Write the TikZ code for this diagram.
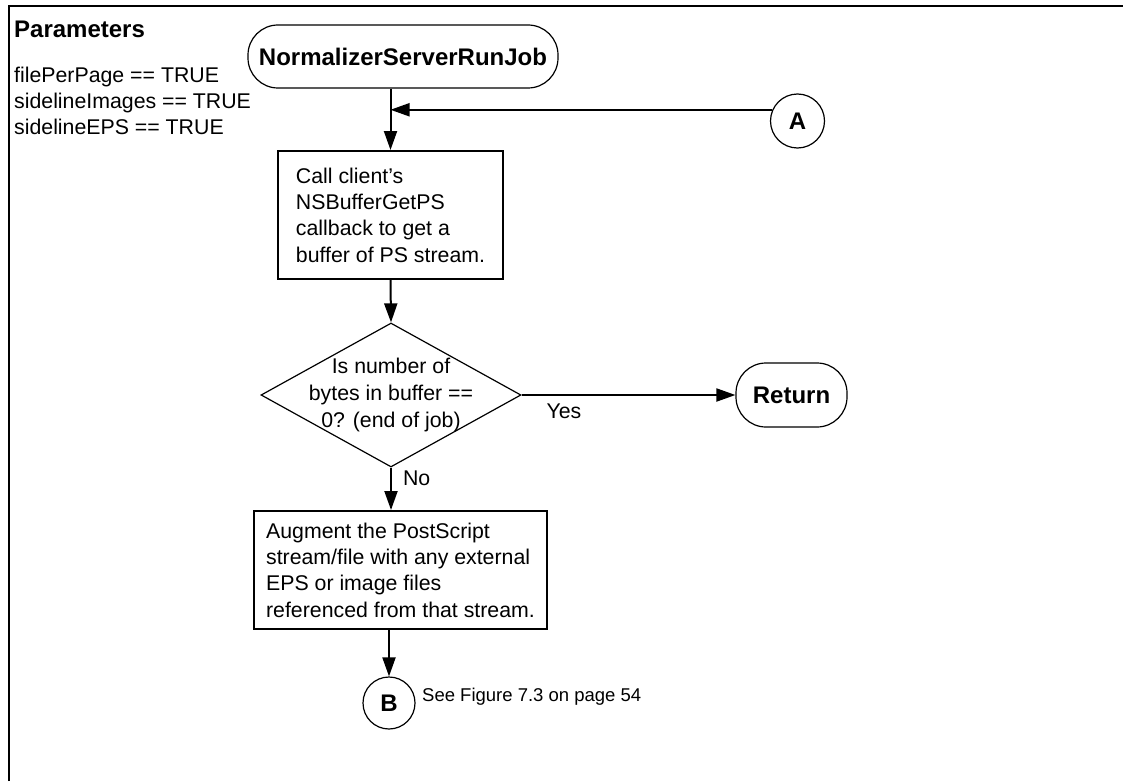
\documentclass[tikz,border=0pt]{standalone}
\usepackage{fontspec}
\setmainfont{Liberation Sans}
\usetikzlibrary{arrows.meta,shapes.geometric}

\begin{document}
\begin{tikzpicture}[x=1pt,y=-1pt,
  plain/.style={inner sep=0pt, font=\fontsize{21.3}{26}\selectfont},
  heading/.style={inner sep=0pt, font=\bfseries\fontsize{24}{28}\selectfont},
  terminal/.style={draw, line width=1.2pt, rectangle, rounded corners=30pt,
    inner sep=0pt, font=\bfseries\fontsize{24}{28}\selectfont},
  connector/.style={draw, line width=1.2pt, circle, inner sep=0pt,
    font=\bfseries\fontsize{24}{28}\selectfont},
  procbox/.style={draw, line width=2pt, rectangle, align=left, inner sep=0pt,
    font=\fontsize{21.3}{26.3}\selectfont},
  decision/.style={draw, line width=1.2pt, diamond, inner sep=0pt,
    minimum width=260pt, minimum height=144pt},
  flow/.style={line width=2pt, -{Triangle[length=19pt,width=13pt]}},
]
\useasboundingbox (0,0) rectangle (1123,781);

% frame
\draw[line width=2pt] (9,781) -- (9,6) -- (1123,6);

% parameter list
\node[heading, anchor=base west] (ptitle) at (14,38) {Parameters};
\node[plain, anchor=base west] (p1) at (14,83) {filePerPage == TRUE};
\node[plain, anchor=base west] (p2) at (14,109) {sidelineImages == TRUE};
\node[plain, anchor=base west] (p3) at (14,135) {sidelineEPS == TRUE};

% flow nodes
\node[terminal, minimum width=310pt, minimum height=63pt] (start) at (403,56.5)
  {NormalizerServerRunJob};
\node[connector, minimum size=54pt] (A) at (797.5,121) {A};
\node[procbox, minimum width=225pt, minimum height=128pt] (getbuf)
  at (390.5,215)
  {Call client’s\\NSBufferGetPS\\callback to get a\\buffer of PS stream.};
\node[decision] (dec) at (391,395) {};
\node[plain, align=center, font=\fontsize{21.3}{27}\selectfont] (dectext)
  at (dec.center) {Is number of\\bytes in buffer ==\\0? (end of job)};
\node[terminal, minimum width=111pt, minimum height=64pt] (ret) at (791.5,395)
  {Return};
\node[procbox, minimum width=293pt, minimum height=118pt] (augment)
  at (400.5,570)
  {Augment the PostScript\\stream/file with any external\\EPS or image files\\referenced from that stream.};
\node[connector, minimum size=52pt] (B) at (389,703) {B};
\node[inner sep=0pt, anchor=base west, font=\fontsize{18.5}{22}\selectfont] (seefig)
  at (422,701) {See Figure 7.3 on page 54};

% connectors
\draw[flow] (start.south -| getbuf.north) -- (getbuf.north);
\draw[flow] (A.156) -- (A.156 -| getbuf.north);
\draw[flow] (getbuf.south) -- (dec.north);
\draw[flow] (dec.east) -- node[plain, anchor=base west, pos=0, xshift=24pt, yshift=-23pt] (yes) {Yes} (ret.west);
\draw[flow] (dec.south) -- node[plain, anchor=base west, pos=0, xshift=11pt, yshift=-18pt] (no) {No} (dec.south |- augment.north);
\draw[flow] (B.north |- augment.south) -- (B.north);
\end{tikzpicture}
\end{document}
